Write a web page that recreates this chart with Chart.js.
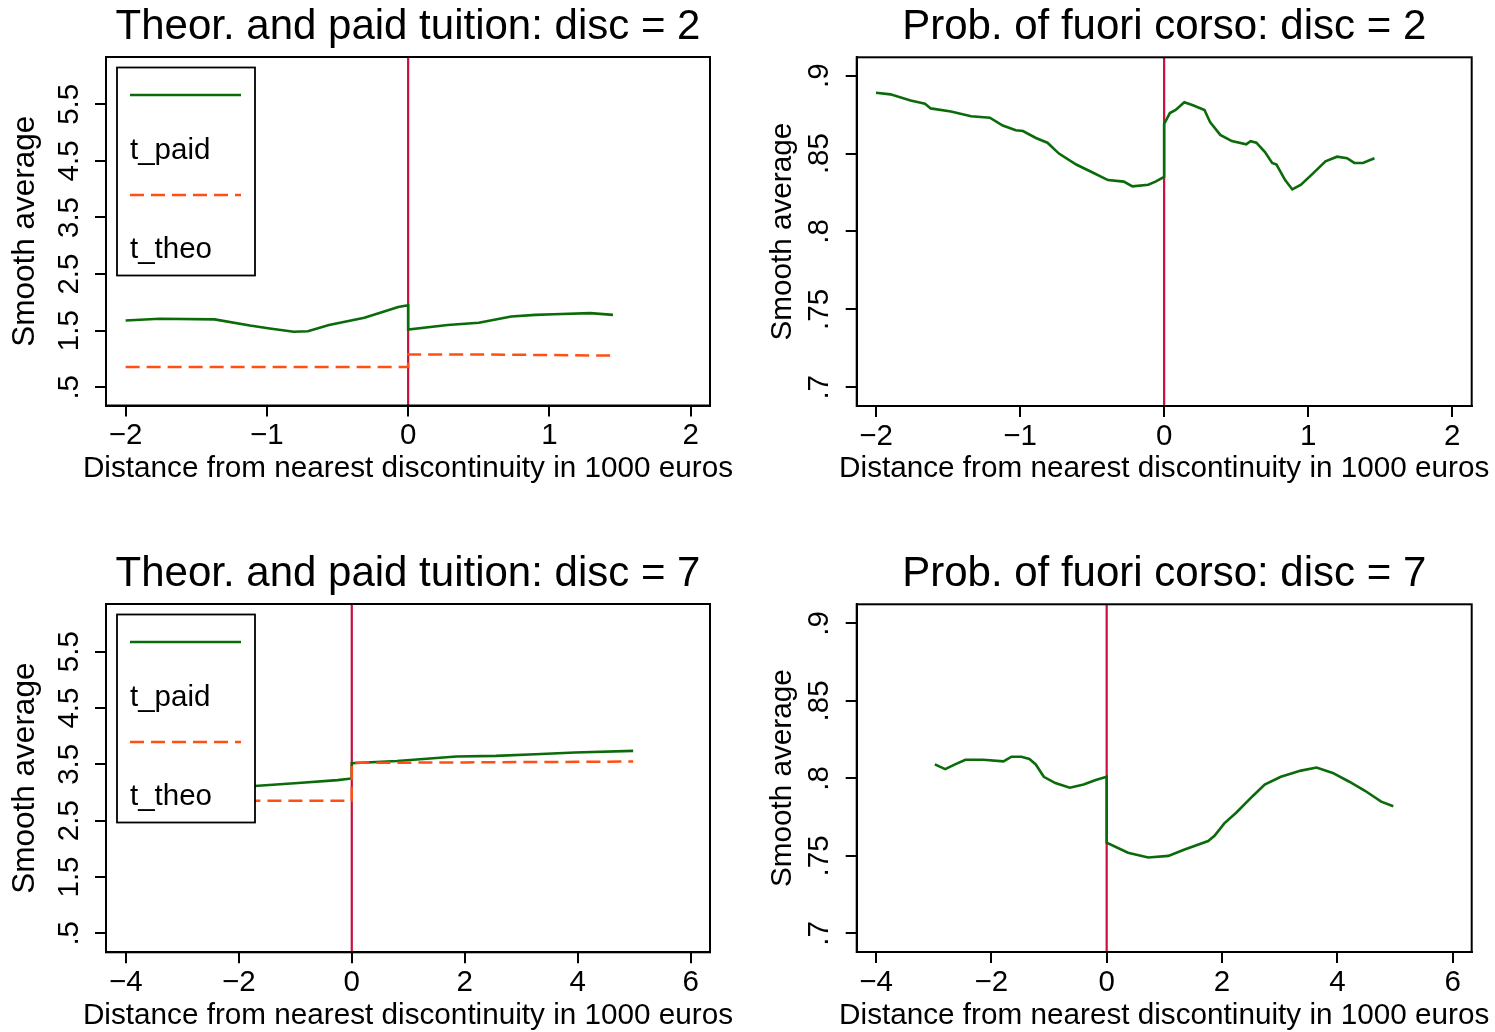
<!DOCTYPE html>
<html>
<head>
<meta charset="utf-8">
<title>Tuition and fuori corso</title>
<script src="https://cdn.jsdelivr.net/npm/chart.js@4.4.1/dist/chart.umd.min.js"></script>
<style>
  html, body { margin: 0; padding: 0; background: #fff; }
  body { width: 1495px; height: 1032px; position: relative; overflow: hidden; }
  .panel { position: absolute; width: 747px; height: 485px; }
</style>
</head>
<body>
<div class="panel" style="left:0;top:0"><canvas id="tuit2"></canvas></div>
<div class="panel" style="left:748px;top:0"><canvas id="prob2"></canvas></div>
<div class="panel" style="left:0;top:547px"><canvas id="tuit7"></canvas></div>
<div class="panel" style="left:748px;top:547px"><canvas id="prob7"></canvas></div>
<script>
const FONT = "'Liberation Sans', Arial, Helvetica, sans-serif";
const GREEN = '#0b6b0b';
const ORANGE = '#ff4f12';
const XLINE = '#c8103c';
const X_TITLE = 'Distance from nearest discontinuity in 1000 euros';

// tick values
const tuitTicksY = [0.5, 1.5, 2.5, 3.5, 4.5, 5.5];
const probTicksY = [0.7, 0.75, 0.8, 0.85, 0.9];
const disc2TicksX = [-2, -1, 0, 1, 2];
const disc7TicksX = [-4, -2, 0, 2, 4, 6];

// disc = 2, tuition
const d2PaidX = [-2, -1.76, -1.37, -1.12, -0.98, -0.81, -0.71, -0.56, -0.31, -0.17, -0.07, 0, 0, 0.28, 0.5, 0.73, 0.9, 1.03, 1.29, 1.45];
const d2PaidY = [1.68, 1.71, 1.70, 1.59, 1.54, 1.48, 1.49, 1.60, 1.73, 1.84, 1.92, 1.95, 1.52, 1.60, 1.64, 1.75, 1.78, 1.79, 1.81, 1.78];
const d2TheoX = [-2, -1, 0, 0, 0.5, 1, 1.43];
const d2TheoY = [0.86, 0.86, 0.86, 1.08, 1.08, 1.07, 1.06];

// disc = 2, prob. of fuori corso
const p2X = [-2, -1.9, -1.76, -1.66, -1.62, -1.48, -1.34, -1.21, -1.12, -1.03, -0.98, -0.89, -0.81, -0.73, -0.61, -0.5, -0.39, -0.28, -0.22, -0.11, -0.06, 0,
  0, 0.04, 0.08, 0.14, 0.2, 0.28, 0.32, 0.39, 0.47, 0.57, 0.6, 0.64, 0.7, 0.75, 0.78, 0.84, 0.89, 0.95, 1.03, 1.12, 1.2, 1.27, 1.32, 1.38, 1.46];
const p2Y = [0.889, 0.888, 0.884, 0.882, 0.879, 0.877, 0.874, 0.873, 0.868, 0.865, 0.8645, 0.86, 0.857, 0.85, 0.843, 0.838, 0.833, 0.832, 0.829, 0.83, 0.832, 0.835,
  0.869, 0.876, 0.878, 0.883, 0.881, 0.878, 0.87, 0.862, 0.858, 0.856, 0.858, 0.857, 0.851, 0.844, 0.843, 0.833, 0.827, 0.83, 0.837, 0.845, 0.848, 0.847, 0.844, 0.844, 0.847];

// disc = 7, tuition
const d7PaidX = [-2.98, -2.5, -1.72, -0.95, -0.25, 0, 0, 0.8, 1.85, 2.55, 3.25, 3.95, 4.98];
const d7PaidY = [3.05, 3.08, 3.115, 3.17, 3.22, 3.25, 3.52, 3.56, 3.64, 3.65, 3.68, 3.71, 3.74];
const d7TheoX = [-2.98, -1.72, 0, 0, 1, 2, 3, 4, 4.98];
const d7TheoY = [2.855, 2.855, 2.855, 3.53, 3.53, 3.535, 3.54, 3.545, 3.55];

// disc = 7, prob. of fuori corso
const p7X = [-2.98, -2.8, -2.63, -2.45, -2.14, -1.79, -1.65, -1.48, -1.34, -1.23, -1.09, -0.89, -0.64, -0.4, -0.19, 0,
  0, 0.37, 0.72, 1.07, 1.34, 1.76, 1.87, 2.04, 2.25, 2.53, 2.74, 3.02, 3.37, 3.64, 3.92, 4.2, 4.48, 4.76, 4.97];
const p7Y = [0.809, 0.806, 0.809, 0.812, 0.812, 0.811, 0.814, 0.814, 0.8125, 0.809, 0.801, 0.797, 0.794, 0.796, 0.799, 0.801,
  0.7585, 0.752, 0.749, 0.75, 0.754, 0.7596, 0.763, 0.771, 0.778, 0.7885, 0.796, 0.801, 0.805, 0.807, 0.8035, 0.798, 0.792, 0.785, 0.782];

const pts = (xs, ys) => xs.map((x, i) => ({ x: x, y: ys[i] }));
const fmtX = v => (v < 0 ? '\u2212' + Math.abs(v) : String(v));
const fmtY = v => (v < 1 ? String(v).replace(/^0/, '') : String(v));

const W = 747, H = 485;

// plot region outline, red line at the discontinuity, Stata style legend, x title
const stataDecor = {
  id: 'stataDecor',
  beforeDatasetsDraw(chart) {
    const { ctx, chartArea: a } = chart;
    const px = chart.scales.x.getPixelForValue(0);
    ctx.save();
    ctx.strokeStyle = XLINE;
    ctx.lineWidth = 2.2;
    ctx.beginPath();
    ctx.moveTo(px, a.top);
    ctx.lineTo(px, a.bottom);
    ctx.stroke();
    ctx.restore();
  },
  afterDatasetsDraw(chart, args, opts) {
    const { ctx, chartArea: a } = chart;
    ctx.save();
    ctx.strokeStyle = '#000';
    ctx.lineWidth = 2;
    ctx.strokeRect(a.left, a.top, a.right - a.left, a.bottom - a.top);

    // x axis title, allowed to run past the plot edges like Stata does
    ctx.fillStyle = '#000';
    ctx.font = '29.7px ' + FONT;
    ctx.textAlign = 'center';
    ctx.textBaseline = 'middle';
    ctx.fillText(X_TITLE, (a.left + a.right) / 2, H - 16);

    if (opts.legend) {
      const lx = a.left + 11, ly = a.top + 10.5, lw = 138, lh = 208;
      ctx.fillStyle = '#fff';
      ctx.fillRect(lx, ly, lw, lh);
      ctx.lineWidth = 1.8;
      ctx.strokeStyle = '#000';
      ctx.strokeRect(lx, ly, lw, lh);
      chart.data.datasets.forEach((ds, i) => {
        const yl = ly + 27.5 + i * 100;
        ctx.setLineDash(ds.borderDash || []);
        ctx.strokeStyle = ds.borderColor;
        ctx.lineWidth = ds.borderWidth;
        ctx.beginPath();
        ctx.moveTo(lx + 13, yl);
        ctx.lineTo(lx + 124, yl);
        ctx.stroke();
        ctx.setLineDash([]);
        ctx.fillStyle = '#000';
        ctx.font = '29.5px ' + FONT;
        ctx.textAlign = 'left';
        ctx.textBaseline = 'middle';
        ctx.fillText(ds.label, lx + 13, ly + 83 + i * 99.5);
      });
    }
    ctx.restore();
  }
};

function makeChart(id, p) {
  const tickFont = { family: FONT, size: 29.5 };
  const axisStyle = {
    grid: { drawOnChartArea: false, drawTicks: true, tickLength: 11, lineWidth: 2, color: '#000' },
    border: { display: true, color: '#000', width: 2 }
  };
  return new Chart(document.getElementById(id), {
    type: 'line',
    data: { datasets: p.datasets },
    options: {
      responsive: true,
      maintainAspectRatio: false,
      animation: false,
      events: [],
      layout: { padding: { left: 0, right: W - p.box.r, top: 0, bottom: 0 } },
      elements: { point: { radius: 0 }, line: { tension: 0 } },
      plugins: {
        legend: { display: false },
        tooltip: { enabled: false },
        title: {
          display: true,
          text: p.title,
          fullSize: false,
          color: '#000',
          font: { family: FONT, size: 42, weight: 'normal', lineHeight: 1.2 },
          padding: { top: 2, bottom: p.box.t - 52.4 }
        },
        stataDecor: { legend: p.legend }
      },
      scales: {
        x: {
          type: 'linear',
          min: p.xMin,
          max: p.xMax,
          afterBuildTicks: s => { s.ticks = p.xTicks.map(v => ({ value: v })); },
          afterFit: s => { s.height = H - p.box.b; },
          ticks: { font: tickFont, color: '#000', padding: 2, autoSkip: false, maxRotation: 0, callback: fmtX },
          title: { display: false },
          ...axisStyle
        },
        y: {
          type: 'linear',
          min: p.yMin,
          max: p.yMax,
          afterBuildTicks: s => { s.ticks = p.yTicks.map(v => ({ value: v })); },
          afterFit: s => { s.width = p.box.l; },
          ticks: { font: tickFont, color: '#000', padding: 5, autoSkip: false, minRotation: 90, maxRotation: 90, crossAlign: 'center', callback: fmtY },
          title: {
            display: true,
            text: 'Smooth average',
            color: '#000',
            font: { family: FONT, size: p.yTitleSize, lineHeight: 1.2 },
            padding: { top: p.yTitlePad, bottom: 0 }
          },
          ...axisStyle
        }
      }
    },
    plugins: [stataDecor]
  });
}

const paidSet = (xs, ys) => ({ label: 't_paid', data: pts(xs, ys), borderColor: GREEN, borderWidth: 2.6, order: 2 });
const theoSet = (xs, ys) => ({ label: 't_theo', data: pts(xs, ys), borderColor: ORANGE, borderWidth: 2.5, borderDash: [14, 7], order: 1 });
const probSet = (xs, ys) => ({ label: 'prob', data: pts(xs, ys), borderColor: GREEN, borderWidth: 2.6 });

makeChart('tuit2', {
  title: 'Theor. and paid tuition: disc = 2',
  box: { l: 106, t: 57, r: 710, b: 405.5 },
  xMin: -2.139, xMax: 2.137, xTicks: disc2TicksX,
  yMin: 0.178, yMax: 6.336, yTicks: tuitTicksY,
  yTitlePad: 6, yTitleSize: 31.5, legend: true,
  datasets: [paidSet(d2PaidX, d2PaidY), theoSet(d2TheoX, d2TheoY)]
});

makeChart('prob2', {
  title: 'Prob. of fuori corso: disc = 2',
  box: { l: 108.7, t: 57.3, r: 723.7, b: 406 },
  xMin: -2.134, xMax: 2.135, xTicks: disc2TicksX,
  yMin: 0.688, yMax: 0.9118, yTicks: probTicksY,
  yTitlePad: 17, yTitleSize: 29.7, legend: false,
  datasets: [probSet(p2X, p2Y)]
});

makeChart('tuit7', {
  title: 'Theor. and paid tuition: disc = 7',
  box: { l: 106, t: 57, r: 710, b: 405.3 },
  xMin: -4.35, xMax: 6.34, xTicks: disc7TicksX,
  yMin: 0.163, yMax: 6.347, yTicks: tuitTicksY,
  yTitlePad: 6, yTitleSize: 31.5, legend: true,
  datasets: [paidSet(d7PaidX, d7PaidY), theoSet(d7TheoX, d7TheoY)]
});

makeChart('prob7', {
  title: 'Prob. of fuori corso: disc = 7',
  box: { l: 108.7, t: 57.3, r: 723.7, b: 405 },
  xMin: -4.335, xMax: 6.33, xTicks: disc7TicksX,
  yMin: 0.688, yMax: 0.9123, yTicks: probTicksY,
  yTitlePad: 17, yTitleSize: 29.7, legend: false,
  datasets: [probSet(p7X, p7Y)]
});
</script>
</body>
</html>
